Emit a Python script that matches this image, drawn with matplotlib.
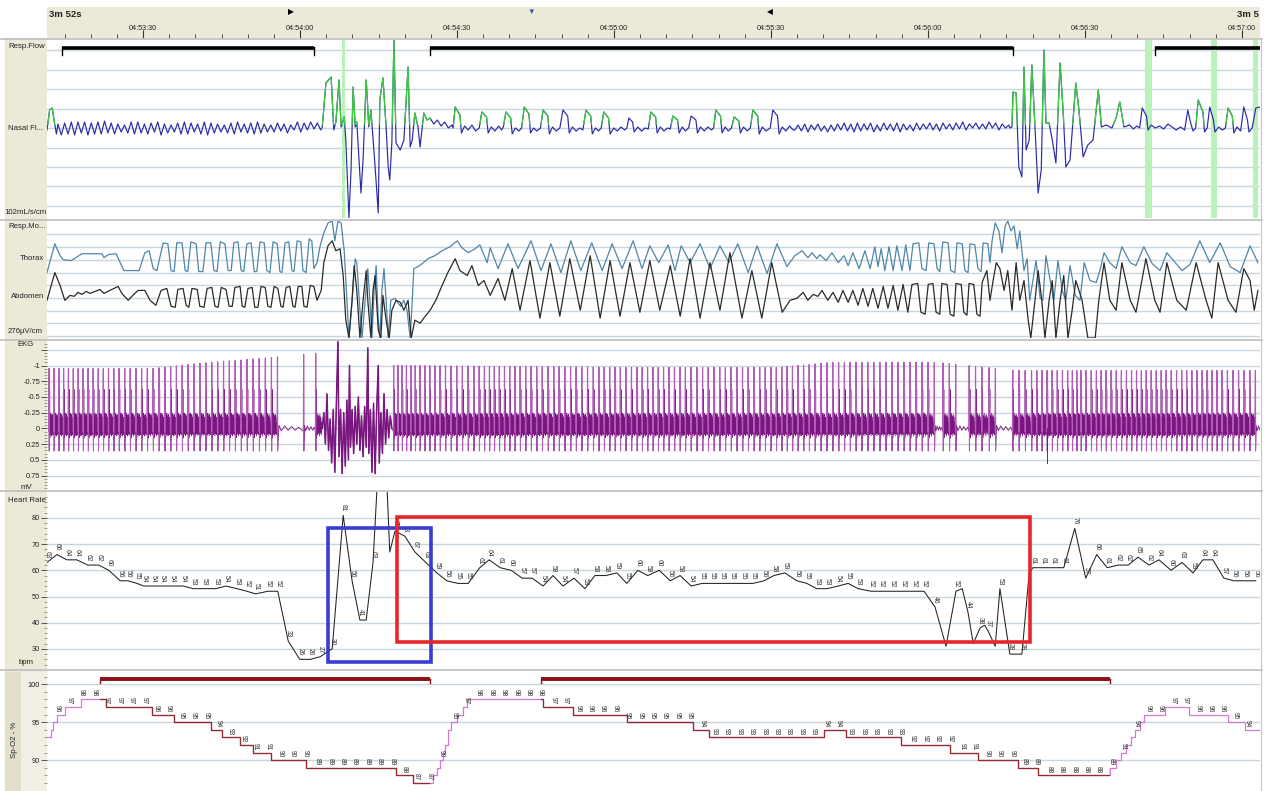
import numpy as np
import matplotlib
matplotlib.use("Agg")
import matplotlib.pyplot as plt
from matplotlib.collections import LineCollection
from matplotlib.patches import Rectangle
from matplotlib.path import Path
from matplotlib.lines import Line2D
from matplotlib.ticker import MultipleLocator, FuncFormatter, FixedLocator

plt.rcParams['font.family'] = ['Liberation Sans', 'DejaVu Sans']

# ======================= DATA =======================
# time = seconds from the left edge of the 3m 52s window (clock 04:53:11.65)
t_start_clock = 4 * 3600 + 53 * 60 + 11.65
window_len = 231.8
window_label = "3m 52s"
window_label_right = "3m 5"
header_marks = [(46.6, '\u25B6', 'black'), (92.5, '\u25BC', '#3a55a8'), (138.2, '\u25C0', 'black')]

# ---- Nasal flow (arbitrary units, 0 = baseline) ----
flow_start = [(0.0, -2), (0.5, 18), (1.0, 20), (1.4, 6), (1.8, -6)]
flow_osc1_span = (2.1, 52.3)
flow_osc1 = [4, -7, 5, -6, 6, -7, 6, -5, 6, -7, 5, -6, 6, -6, 7, -5, 5, -6, 4, -4, 3, -5, 6, -6, 6, -5, 4, -6, 5, -4,
             6, -7, 4, -5, 3, -4, 5, -6, 6, -6, 5, -4, 4, -6, 6, -7, 5, -5, 4, -4, 3, -5, 5, -6, 6, -4, 4, -5, 5, -6,
             6, -5, 4, -4, 3, -4, 5, -3, 4, -5, 3, -2, 6, -4, 5, -2, 6, -1, 5, -2]
flow_event1 = [(52.6, 1), (53.3, 45), (54.3, 51), (54.8, -2), (55.2, 6), (55.8, 48), (56.2, 1), (56.8, 11), (57.1, -12),
               (57.7, -90), (58.1, -42), (58.5, 41), (58.9, 1), (59.2, 6), (60.0, -65), (60.4, -32), (61.0, 48),
               (61.5, 1), (61.9, 18), (62.7, -39), (63.3, -85), (63.6, 28), (64.2, 50), (64.8, 1), (65.2, -39),
               (65.5, -52), (65.9, -15), (66.3, 88), (66.7, -15), (67.5, -22), (68.2, -12), (69.0, 61), (69.4, -19),
               (69.8, -12), (70.3, 15), (70.9, 1), (71.3, -19), (72.0, 15), (72.6, 8), (73.2, 10)]
flow_breaths = [(73.9, 4), (74.6, 8), (75.3, 2), (76.0, 6), (76.7, 0), (77.4, 3), (77.6, 0), (78.0, 21), (78.9, 13),
                (79.2, -5), (79.8, 2), (80.5, -2), (81.2, 3), (81.9, -3), (82.6, 0), (83.1, 16), (84.0, 11), (84.3, -5),
                (84.9, 1), (85.6, -3), (86.3, 2), (86.9, -2), (87.2, 1), (87.7, 16), (88.6, 10), (88.9, -6), (89.5, 0),
                (90.2, -3), (90.7, 0), (91.2, 21), (92.1, 14), (92.4, -5), (93.0, 0), (93.6, -3), (94.3, 0), (94.8, 18),
                (95.7, 12), (96.0, -6), (96.6, 1), (97.3, -3), (98.0, 0), (98.6, 18), (99.5, 12), (99.8, -5),
                (100.4, 1), (101.1, -3), (101.8, 0), (102.4, -2), (103.0, 18), (103.9, 12), (104.2, -6), (104.8, 0),
                (105.4, -3), (105.9, 0), (106.4, 16), (107.3, 10), (107.6, -6), (108.3, 0), (109.0, -3), (109.7, 1),
                (110.4, -2), (110.8, 0), (111.2, 10), (111.9, 6), (112.2, -4), (112.9, 1), (113.6, -3), (114.3, 0),
                (114.9, -1), (115.4, 16), (116.3, 11), (116.6, -5), (117.2, 1), (117.9, -3), (118.6, 0), (119.1, -1),
                (119.6, 12), (120.5, 8), (120.8, -5), (121.4, 1), (122.0, -3), (122.6, 0), (123.1, 12), (124.0, 8),
                (124.3, -5), (124.9, 1), (125.6, -3), (126.3, 1), (127.0, -2), (127.4, 0), (127.8, 18), (128.7, 12),
                (129.0, -5), (129.6, 1), (130.2, -3), (130.8, 0), (131.3, 11), (132.2, 7), (132.5, -5), (133.1, 1),
                (133.8, -3), (134.4, 0), (134.9, 18), (135.8, 12), (136.1, -6), (136.7, 1), (137.4, -3), (138.2, 0),
                (138.7, 18), (139.6, 12), (139.9, -6), (140.5, 1), (141.2, -3), (141.9, 2), (142.6, -2)]
flow_osc2_span = (142.9, 183.8)
flow_osc2 = [-2, 3, -3, 4, -4, 3, -2, 4, -3, 2, -4, 3, -3, 4, -2, 5, -3, 4, -4, 5, -3, 4, -2, 5, -4, 3, -3, 5, -2, 4,
             -3, 5, -4, 4, -2, 3, -3, 5, -2, 4, -1, 5, -2, 4, -3, 5, -1, 4, -2, 5, -1, 6, -2, 4, 0, 5, -1, 4, -1, 6,
             0, 5, -2, 4, 0, 3]
flow_event2 = [(184.0, 0), (184.4, 1), (184.6, 36), (185.2, 35), (185.7, -39), (186.3, -49), (186.7, 61), (187.1, -22),
               (187.7, -12), (188.2, 63), (188.8, 1), (189.4, -65), (190.0, -42), (190.5, 78), (190.9, 5), (191.5, 5),
               (192.1, -12), (192.8, -35), (193.6, 65), (194.2, 15), (194.7, -39), (195.5, -32), (196.6, 45),
               (197.2, 18), (198.0, -29), (198.9, -17), (199.9, -12), (200.9, 38), (201.5, 1), (202.4, 3), (203.5, 0),
               (204.3, 10), (205.0, 26), (205.8, 1), (206.9, 3)]
flow_tail = [(207.6, -1), (208.3, 2), (208.8, 0), (209.3, 20), (210.1, 12), (210.4, -2), (211.0, 3), (211.8, 0),
             (212.6, 2), (213.4, -1), (214.2, 4), (215.0, 1), (215.8, -2), (216.6, 1), (217.4, -2), (218.0, 18),
             (218.6, 4), (219.0, -3), (219.5, 0), (220.0, 28), (220.9, 16), (221.2, -4), (221.7, 0), (222.2, 21),
             (222.9, 8), (223.2, -4), (223.9, 1), (224.6, -2), (225.2, 0), (225.7, 20), (226.5, 12), (226.8, -5),
             (227.4, 1), (228.1, -3), (228.7, 21), (229.4, 8), (229.7, -4), (230.3, 0), (231.0, 20), (231.8, 21)]
# spans where the flow trace is drawn green (scored breaths)
flow_green_spans = [(0.0, 1.8), (52.5, 73.3), (77.5, 79.2), (82.5, 84.3), (87.1, 88.9), (90.6, 92.4), (94.2, 96.0),
                    (102.4, 104.2), (105.8, 107.6), (114.8, 116.6), (119.0, 120.8), (127.3, 129.0), (130.7, 132.5),
                    (134.3, 136.1), (184.0, 207.5), (219.5, 221.2), (225.2, 226.8)]
# scored flow events (black bars) and light green marks
flow_events = [(2.9, 51.0), (73.2, 184.6), (211.7, 233.0)]
flow_marks = [(56.4, 56.9), (209.9, 211.2), (222.4, 223.5), (230.5, 231.5)]

# ---- Respiratory effort (arbitrary units) ----
thorax = [(0.0, 0), (1.5, 29), (2.5, 17), (3.1, 13), (4.6, 12), (6.7, 19), (10.5, 19), (10.9, 15), (11.7, 18),
          (13.2, 19), (14.7, 2), (17.6, 2), (18.7, 20), (19.5, 22), (20.3, 4), (21.0, 2),
          (22.2, 30), (23.1, 29), (23.7, 2), (24.3, 1), (24.8, 30), (25.8, 30), (26.4, 2), (26.9, 1),
          (27.5, 31), (28.5, 29), (29.0, 1), (29.8, 1), (30.4, 30), (31.3, 30), (31.9, 2), (32.5, 1),
          (33.1, 31), (34.0, 29), (34.6, 2), (35.2, 2), (35.7, 30), (36.5, 31), (37.1, 2), (37.6, 1),
          (38.2, 29), (39.0, 30), (39.6, 1), (40.1, 1), (40.7, 31), (41.5, 30), (42.0, 2), (42.6, 0),
          (43.2, 31), (44.0, 29), (44.5, 1), (44.9, 0), (45.5, 30), (46.2, 31), (46.8, 2), (47.2, 1),
          (47.8, 32), (48.5, 31), (48.9, 2), (49.5, 0), (50.1, 34), (50.6, 32), (51.0, 4), (51.6, 10),
          (52.2, 27), (52.9, 40), (53.7, 50), (54.5, 52), (55.0, 32), (55.6, 52), (56.2, 50), (56.8, 22),
          (57.3, -28), (57.7, -66), (58.3, -28), (58.9, 14), (59.2, 10), (59.8, -38), (60.2, -66), (60.8, -28),
          (61.3, 4), (61.7, -28), (62.1, -66), (62.5, -18), (62.9, 7), (63.3, -48), (63.6, -66), (64.0, -18),
          (64.4, 4), (64.8, -28), (65.2, -66), (65.7, -28), (66.5, -26), (67.1, -31), (67.6, -34), (68.2, -28),
          (68.8, -38), (69.4, -66), (69.8, -28), (70.1, 4), (70.9, 6), (71.7, 9), (72.8, 14), (74.1, 17),
          (75.5, 22), (77.0, 26), (78.4, 32), (79.3, 25), (80.5, 20), (81.8, 24), (82.7, 28), (84.1, 10),
          (84.7, 25), (86.2, 4), (88.1, 29), (90.0, 4), (92.5, 32), (94.4, 2), (96.3, 29), (98.2, 0),
          (100.1, 32), (102.0, 2), (104.1, 30), (106.1, 2), (108.0, 29), (109.9, 4), (112.0, 32), (113.7, 4),
          (115.2, 27), (116.9, 10), (118.7, 28), (120.0, 2), (121.2, 27), (122.9, 10), (124.8, 29), (126.7, 4),
          (128.6, 27), (130.3, 10), (132.0, 29), (134.0, 0), (135.7, 27), (137.6, -1), (139.5, 29), (141.4, 6),
          (142.9, 17), (144.3, 22), (145.4, 15), (146.2, 20), (147.1, 14), (147.7, 18), (148.9, 12), (150.0, 20),
          (151.2, 10), (152.3, 17), (153.1, 7), (154.0, 20), (155.2, 4), (156.3, 22), (157.3, 4), (158.2, 26),
          (158.8, 6), (159.4, 24), (160.1, 2), (160.9, 26), (161.7, 2), (162.4, 27), (163.4, 2), (164.1, 28),
          (164.9, 2), (165.5, 29), (166.6, 30), (167.2, 4), (168.0, 2), (168.5, 30), (169.5, 29), (170.1, 4),
          (170.6, 1), (171.2, 31), (172.2, 30), (172.7, 2), (173.5, 0), (173.9, 30), (174.9, 29), (175.4, 2),
          (176.0, 0), (176.4, 29), (177.3, 28), (177.9, 4), (178.5, 1), (178.9, 30), (179.8, 29), (180.2, 10),
          (180.6, 32), (181.2, 50), (181.9, 42), (182.5, 20), (183.1, 47), (183.6, 52), (184.2, 42), (184.8, 47),
          (185.4, 24), (185.9, 42), (186.7, 2), (187.3, 14), (187.8, -28), (188.4, -8), (189.0, 12), (189.8, -26),
          (190.3, -28), (190.9, 17), (191.7, -8), (192.4, -28), (193.2, 12), (194.0, -18), (194.7, -28),
          (195.5, 7), (196.5, -23), (197.4, -28), (198.2, 10), (199.3, -8), (200.5, -10), (201.2, 2), (202.0, 20),
          (203.1, 10), (204.3, 4), (205.4, 26), (207.0, 10), (208.1, 7), (209.6, 26), (211.2, 9), (212.7, 2),
          (214.0, 20), (215.6, 10), (216.9, 2), (218.4, 8), (220.3, 32), (222.2, 10), (224.2, 30), (226.1, 6),
          (228.0, 0), (229.9, 27), (231.4, 10)]
abdomen = [(0.0, -28), (0.8, -13), (1.5, 0), (2.5, -13), (3.4, -28), (4.4, -23), (5.2, -24), (5.9, -20), (6.7, -22),
           (7.5, -19), (8.2, -21), (9.2, -19), (10.1, -17), (10.9, -21), (12.0, -18), (13.6, -14), (14.3, -21),
           (15.5, -28), (16.4, -23), (17.4, -18), (18.7, -18), (19.7, -28), (20.8, -33),
           (21.8, -18), (22.9, -16), (23.7, -34), (24.5, -35), (25.0, -17), (26.0, -16), (26.6, -33), (27.1, -35),
           (27.7, -16), (28.7, -17), (29.2, -34), (30.0, -35), (30.6, -16), (31.5, -15), (32.1, -34), (32.7, -35),
           (33.3, -15), (34.2, -17), (34.8, -34), (35.4, -34), (35.9, -15), (36.9, -14), (37.3, -34), (37.8, -35),
           (38.4, -16), (39.2, -15), (39.7, -35), (40.3, -35), (40.9, -14), (41.7, -15), (42.2, -34), (42.8, -35),
           (43.4, -14), (44.1, -16), (44.7, -34), (45.1, -35), (45.7, -15), (46.4, -14), (47.0, -34), (47.4, -35),
           (48.0, -14), (48.7, -14), (49.1, -34), (49.7, -35), (50.3, -13), (51.0, -14), (51.6, -28),
           (52.4, -18), (52.9, 10), (53.7, 27), (54.5, 32), (55.2, 22), (56.0, 24), (56.6, -3), (57.1, -48),
           (57.7, -66), (58.3, -28), (58.7, 7), (59.2, -18), (59.8, -66), (60.4, -28), (61.0, 2), (61.3, -28),
           (61.9, -66), (62.3, -18), (62.7, -3), (63.3, -58), (63.8, -66), (64.2, -23), (64.8, -48), (65.4, -66),
           (65.9, -38), (66.7, -28), (67.5, -30), (68.2, -38), (69.0, -28), (69.6, -66), (70.3, -48), (71.3, -51),
           (72.0, -46), (73.2, -38), (74.3, -28), (75.5, -13), (76.6, 0), (78.0, 14), (78.9, 2), (80.3, -3),
           (81.2, 7), (82.4, -13), (83.5, -8), (84.7, -23), (86.2, -6), (87.5, -28), (88.9, 4), (90.4, -38),
           (92.3, 12), (94.2, -46), (96.1, 10), (98.0, -44), (99.9, 14), (101.9, -38), (103.8, 17), (105.7, -46),
           (107.6, 12), (109.5, -44), (111.4, 10), (113.3, -40), (115.2, 12), (117.1, -38), (119.1, 7),
           (121.0, -44), (122.9, 14), (124.8, -46), (126.7, 10), (128.6, -38), (130.5, 20), (132.8, -46),
           (134.7, 2), (136.6, -46), (138.5, 10), (140.5, -40), (142.0, -28), (143.3, -26), (144.5, -20),
           (145.4, -28), (146.4, -22), (147.3, -24), (148.1, -18), (149.2, -28), (150.2, -20), (151.2, -30),
           (152.1, -18), (153.1, -30), (154.0, -18), (155.0, -33), (155.9, -16), (156.9, -34), (157.8, -16),
           (158.8, -36), (159.8, -14), (160.7, -36), (161.7, -13), (162.6, -38), (163.6, -12), (164.5, -40),
           (165.3, -12), (166.4, -11), (167.0, -40), (167.8, -42), (168.4, -12), (169.3, -11), (169.9, -40),
           (170.6, -42), (171.0, -11), (172.0, -12), (172.6, -42), (173.3, -44), (173.7, -11), (174.7, -12),
           (175.2, -40), (175.8, -43), (176.2, -11), (177.1, -12), (177.7, -42), (178.3, -44), (178.7, -10),
           (179.6, 2), (180.2, -28), (180.8, -8), (181.4, 10), (182.1, 4), (182.9, -18), (183.6, 2), (184.4, -38),
           (185.2, 10), (185.9, -28), (186.7, -8), (187.5, -48), (188.0, -66), (188.8, -28), (189.4, 2),
           (190.1, -28), (190.7, -66), (191.5, -28), (192.1, -8), (192.8, -66), (193.6, -28), (194.3, -3),
           (195.1, -66), (195.9, -38), (196.6, -8), (197.8, -28), (198.9, -66), (200.3, -66), (201.0, -28),
           (202.0, 10), (203.1, -28), (204.3, -38), (205.4, 10), (207.0, -28), (208.1, -40), (210.0, 14),
           (211.7, -28), (212.7, -40), (214.0, 10), (215.9, -28), (217.7, -38), (219.6, 10), (221.5, -28),
           (222.6, -46), (223.8, 10), (225.7, -28), (227.2, -40), (228.7, 4), (229.9, -8), (230.7, -38),
           (231.4, -18)]

# ---- EKG (mV, negative up) ----
ekg_first_beat = 0.35
ekg_min_rate = 50
ekg_r_t = [0, 20, 30, 42, 52, 66, 110, 140, 150, 170, 185, 232]
ekg_r_amp = [0.95, 0.95, 1.04, 1.12, 1.2, 1.0, 0.97, 0.97, 1.05, 1.05, 0.92, 0.92]
ekg_pauses = [(44.9, 49.0), (49.3, 51.3), (51.6, 52.6), (169.7, 171.2), (174.7, 176.2), (178.8, 180.0),
              (181.6, 184.5)]
ekg_beat_shape = [(0.03, -0.1), (0.07, -0.62), (0.11, 0.15), (0.17, -0.2), (0.24, 0.1), (0.31, -0.24), (0.39, 0.08),
                  (0.47, -0.2), (0.55, 0.12), (0.63, -0.22), (0.71, 0.08), (0.79, -0.18), (0.87, 0.1), (0.95, -0.1)]
ekg_pause_shape = [(0.05, -0.05), (0.15, 0.04), (0.3, -0.04), (0.45, 0.03), (0.6, -0.03), (0.75, 0.03), (0.9, -0.02)]
ekg_chaos = [(52.6, 0.0), (52.9, -0.25), (53.2, 0.25), (53.5, -0.55), (53.8, 0.35), (54.1, -0.15), (54.4, 0.55),
             (54.7, -0.3), (55.0, 0.7), (55.3, -0.4), (55.6, -1.38), (55.8, 0.45), (56.1, -0.3), (56.4, 0.72),
             (56.7, -0.25), (57.0, 0.6), (57.3, -0.45), (57.6, 0.5), (57.8, -1.0), (58.0, 0.3), (58.3, -0.3),
             (58.6, 0.4), (58.9, -0.35), (59.2, 0.25), (59.5, -0.5), (59.8, 0.35), (60.1, -0.2), (60.4, 0.45),
             (60.7, -0.35), (61.0, 0.3), (61.3, -1.28), (61.5, 0.4), (61.8, -0.3), (62.1, 0.7), (62.4, -0.4),
             (62.7, 0.72), (63.0, -0.3), (63.3, -1.0), (63.5, 0.55), (63.8, -0.25), (64.1, 0.4), (64.4, -0.55),
             (64.7, 0.25), (65.0, -0.3), (65.3, 0.15), (65.6, -0.2), (65.9, 0.0)]
ekg_extra = [(191.1, 0.55)]

# ---- Heart rate (bpm): (time, value, labelled) ----
heart_rate = [(0.0, 63, 1), (1.9, 66, 1), (3.8, 64, 1), (5.7, 64, 1), (7.8, 62, 1), (9.9, 62, 1), (11.8, 60, 1),
              (14.0, 56, 1), (15.5, 56, 1), (17.2, 55, 1), (18.5, 54, 1), (20.3, 54, 1), (22.0, 54, 1), (23.9, 54, 1),
              (26.0, 54, 1), (27.9, 53, 1), (30.0, 53, 1), (32.3, 53, 1), (34.2, 54, 1), (36.3, 53, 1), (38.2, 52, 1),
              (39.9, 51, 1), (42.2, 52, 1), (44.1, 52, 1), (46.1, 33, 1), (48.3, 26, 1), (50.3, 26, 1), (52.2, 27, 1),
              (54.5, 30, 1), (56.6, 81, 1), (58.3, 56, 1), (59.8, 41, 1), (61.0, 41, 0), (62.3, 63, 1),
              (63.3, 100, 0), (64.8, 100, 0), (65.5, 67, 0), (66.5, 75, 1), (68.4, 73, 1), (70.3, 67, 1),
              (72.4, 63, 1), (74.5, 59, 1), (76.4, 56, 1), (78.5, 55, 1), (80.5, 55, 1), (82.7, 61, 1), (84.5, 64, 1),
              (86.6, 61, 1), (88.7, 60, 1), (90.8, 57, 1), (92.7, 57, 1), (94.8, 54, 1), (96.7, 58, 1), (98.6, 54, 1),
              (100.7, 57, 1), (102.8, 53, 1), (104.7, 58, 1), (106.8, 58, 1), (108.9, 59, 1), (110.8, 55, 1),
              (112.9, 60, 1), (114.8, 58, 1), (117.0, 60, 1), (119.1, 56, 1), (121.0, 58, 1), (123.1, 54, 1),
              (125.2, 55, 1), (127.1, 55, 1), (129.0, 55, 1), (130.9, 55, 1), (133.0, 55, 1), (134.9, 55, 1),
              (137.0, 56, 1), (138.9, 58, 1), (141.0, 59, 1), (143.3, 56, 1), (145.2, 55, 1), (147.1, 53, 1),
              (149.1, 53, 1), (151.2, 54, 1), (153.1, 55, 1), (155.0, 53, 1), (157.5, 52, 1), (159.4, 52, 1),
              (161.5, 52, 1), (163.6, 52, 1), (165.7, 52, 1), (167.6, 52, 1), (169.7, 46, 1), (171.8, 31, 0),
              (173.7, 52, 1), (174.9, 53, 0), (176.0, 44, 1), (177.0, 32, 0), (178.3, 38, 1), (179.2, 39, 0),
              (179.8, 37, 1), (181.2, 31, 0), (182.1, 53, 1), (184.0, 28, 1), (186.3, 28, 1), (187.7, 59, 0),
              (188.4, 61, 1), (190.3, 61, 1), (192.2, 61, 1), (194.3, 61, 1), (196.4, 76, 1), (198.5, 57, 1),
              (200.6, 66, 1), (202.6, 61, 1), (204.7, 62, 1), (206.6, 62, 1), (208.5, 65, 1), (210.6, 62, 1),
              (212.5, 64, 1), (214.8, 60, 1), (216.9, 63, 1), (219.0, 59, 1), (220.9, 64, 1), (222.8, 64, 1),
              (224.9, 57, 1), (226.8, 56, 1), (228.9, 56, 1), (231.0, 56, 1)]
# annotation boxes on the heart-rate panel: (t0, t1, bpm_low, bpm_high)
hr_box_red = (66.9, 187.8, 32.7, 80.4)
hr_box_blue = (53.7, 73.4, 25.0, 76.2)

# ---- SpO2 (%): step changes (time, level) ----
spo2_steps = [(0.0, 93), (0.8, 94), (1.1, 95), (1.9, 96), (3.4, 97), (6.5, 98), (11.3, 97), (20.1, 96), (24.3, 95),
              (31.3, 94), (33.4, 93), (36.9, 92), (39.4, 91), (42.8, 90), (49.5, 89), (66.7, 88), (69.9, 87),
              (73.8, 88), (74.5, 89), (75.1, 90), (75.7, 91), (76.1, 92), (76.6, 94), (77.2, 95), (78.3, 96),
              (79.5, 97), (80.3, 98), (94.8, 97), (100.5, 96), (110.8, 95), (123.4, 94), (126.5, 93), (148.5, 94),
              (152.7, 93), (163.2, 92), (172.6, 91), (177.9, 90), (185.6, 89), (189.4, 88), (203.1, 89),
              (204.3, 90), (205.2, 91), (206.2, 92), (207.2, 93), (207.9, 94), (208.9, 95), (209.6, 96),
              (213.6, 97), (218.2, 96), (225.7, 95), (228.9, 94)]
spo2_label_start, spo2_label_step = 1.9, 2.37
spo2_events = [(10.1, 73.2), (94.4, 203.1)]

# ======================= FIGURE =======================
W, H = 1267, 791
fig = plt.figure(figsize=(W / 100, H / 100), dpi=100)
fig.patch.set_facecolor('white')
T0 = t_start_clock
XL = (T0, T0 + window_len)
GRID = '#c8d6e0'
BEIGE = '#ece9d8'
FS = 5.6


def px_axes(x0, y0, x1, y1):
    ax = fig.add_axes([x0 / W, 1 - y1 / H, (x1 - x0) / W, (y1 - y0) / H])
    ax.set_xlim(*XL)
    for s in ax.spines.values():
        s.set_visible(False)
    ax.tick_params(axis='x', which='both', bottom=False, labelbottom=False)
    return ax


def ftext(x, y, s, **kw):
    kw.setdefault('fontsize', FS)
    kw.setdefault('color', '#222222')
    kw.setdefault('va', 'center')
    fig.text(x / W, 1 - y / H, s, **kw)


def spans_path(spans, y0, y1):
    verts, codes = [], []
    for a, b in spans:
        verts += [(T0 + a, y0), (T0 + b, y0), (T0 + b, y1), (T0 + a, y1), (T0 + a, y0)]
        codes += [Path.MOVETO, Path.LINETO, Path.LINETO, Path.LINETO, Path.CLOSEPOLY]
    return Path(verts, codes)


def yaxis_style(ax, majors, minor, fmt):
    ax.yaxis.set_major_locator(FixedLocator(majors))
    ax.yaxis.set_minor_locator(MultipleLocator(minor))
    ax.yaxis.set_major_formatter(FuncFormatter(fmt))
    ax.tick_params(axis='y', which='major', length=4, width=0.7, color='#555555', labelsize=FS - 0.3,
                   pad=1, labelcolor='#222222')
    ax.tick_params(axis='y', which='minor', length=2, width=0.5, color='#777777')
    ax.grid(axis='y', which='major', color=GRID, lw=1.0)
    ax.set_axisbelow(True)


# left column and header backgrounds
fig.add_artist(Rectangle((5 / W, 0), 42 / W, 1 - 38 / H, transform=fig.transFigure, color=BEIGE, zorder=-2))
fig.add_artist(Rectangle((5 / W, 0), 16 / W, 1 - 672 / H, transform=fig.transFigure, color='#e3dfcb', zorder=-1))
fig.add_artist(Rectangle((21 / W, 0), 26 / W, 1 - 672 / H, transform=fig.transFigure, color='#f1efe4', zorder=-1))

# ---------------- header ----------------
axh = px_axes(47, 7, 1260, 38)
axh.set_facecolor(BEIGE)
axh.set_ylim(0, 1)
axh.set_yticks([])


def clock(x, pos):
    s = int(round(x))
    return f"{s // 3600:02d}:{(s // 60) % 60:02d}:{s % 60:02d}"


axh.xaxis.set_major_locator(MultipleLocator(30))
axh.xaxis.set_minor_locator(MultipleLocator(5))
axh.xaxis.set_major_formatter(FuncFormatter(clock))
axh.tick_params(axis='x', which='major', bottom=True, labelbottom=True, direction='in', length=6, width=0.8,
                color='#333333', labelsize=FS - 0.4, pad=-9.6, labelcolor='#222222')
axh.tick_params(axis='x', which='minor', bottom=True, direction='in', length=3, width=0.6, color='#333333')
axh.text(T0 + 0.4, 0.77, window_label, fontsize=6.8, fontweight='bold', va='center', ha='left', color='#222')
axh.text(T0 + window_len - 0.2, 0.77, window_label_right, fontsize=6.8, fontweight='bold', va='center', ha='right',
         color='#222')
for tm, sym, col in header_marks:
    axh.text(T0 + tm, 0.82, sym, fontsize=5.5, ha='center', va='center', color=col)

# ---------------- Resp flow ----------------
axf = px_axes(47, 40, 1260, 218)
axf.set_ylim(-90, 88)
axf.set_yticks([])
for k in range(-4, 5):
    axf.axhline(19.5 * k, color=GRID, lw=1.0, zorder=0)
for a, b in flow_marks:
    axf.axvspan(T0 + a, T0 + b, color='#b8f2b8', lw=0, zorder=1)
for a, b in flow_events:
    axf.plot([T0 + a, T0 + b], [80, 80], color='black', lw=2.6, solid_capstyle='butt', zorder=3)
    axf.plot([T0 + a, T0 + a], [81, 73], color='black', lw=1.0, zorder=3)
    axf.plot([T0 + b, T0 + b], [81, 73], color='black', lw=1.0, zorder=3)

o1t = np.linspace(flow_osc1_span[0], flow_osc1_span[1], len(flow_osc1))
o2t = np.linspace(flow_osc2_span[0], flow_osc2_span[1], len(flow_osc2))
ft = np.concatenate([[p[0] for p in flow_start], o1t, [p[0] for p in flow_event1], [p[0] for p in flow_breaths],
                     o2t, [p[0] for p in flow_event2], [p[0] for p in flow_tail]])
fv = np.concatenate([[p[1] for p in flow_start], flow_osc1, [p[1] for p in flow_event1],
                     [p[1] for p in flow_breaths], flow_osc2, [p[1] for p in flow_event2],
                     [p[1] for p in flow_tail]])
axf.plot(T0 + ft, fv, color='#2a2aa6', lw=0.85, zorder=4)
gl, = axf.plot(T0 + ft, fv, color='#3ccb3c', lw=0.9, zorder=5)
gl.set_clip_path(spans_path(flow_green_spans, 3, 200), axf.transData)

# ---------------- Resp effort ----------------
axr = px_axes(47, 221, 1260, 338)
axr.set_ylim(-66, 52)
axr.set_yticks([])
for k in range(-5, 4):
    axr.axhline(12.8 * k, color=GRID, lw=1.0, zorder=0)
axr.plot([T0 + p[0] for p in thorax], [p[1] for p in thorax], color='#4f86a8', lw=0.9, zorder=3)
axr.plot([T0 + p[0] for p in abdomen], [p[1] for p in abdomen], color='#2a2a2a', lw=0.9, zorder=3)

# ---------------- EKG ----------------
axe = px_axes(47, 341, 1260, 490)
axe.set_ylim(0.98, -1.39)
yaxis_style(axe, [-1.25, -1, -0.75, -0.5, -0.25, 0, 0.25, 0.5, 0.75], 0.05,
            lambda v, p: '' if v < -1.1 else ('%g' % v))

hr_t = np.array([p[0] for p in heart_rate], float)
hr_v = np.array([p[1] for p in heart_rate], float)
chaos_a, chaos_b = ekg_chaos[0][0], ekg_chaos[-1][0]
beats = []
tb = ekg_first_beat
while tb < window_len:
    if chaos_a <= tb < chaos_b:
        tb = chaos_b + 0.3
        continue
    beats.append(tb)
    nxt = tb + 60.0 / np.clip(np.interp(tb, hr_t, hr_v), ekg_min_rate, 90)
    for a, b in ekg_pauses:
        if tb < a and nxt > a:
            nxt = b
    tb = nxt

ek_t, ek_v, r_segs = [], [], []
for i, tb in enumerate(beats):
    nxt = beats[i + 1] if i + 1 < len(beats) else window_len + 1.0
    if tb < chaos_a < nxt:
        nxt = chaos_a
    I = min(nxt - tb, 4.5)
    A = np.interp(tb, ekg_r_t, ekg_r_amp)
    shape = ekg_pause_shape if I > 1.6 else ekg_beat_shape
    ek_t += [tb, tb + 0.04, tb + 0.08]
    ek_v += [0.05, -A, 0.36]
    r_segs.append([(T0 + tb, 0.05), (T0 + tb + 0.04, -A), (T0 + tb + 0.08, 0.36)])
    span = min(I, 1.2) if I > 1.6 else I
    for f, v in shape:
        ek_t.append(tb + 0.1 + f * (I - 0.1))
        ek_v.append(v)
ek_t += [p[0] for p in ekg_chaos]
ek_v += [p[1] for p in ekg_chaos]
order = np.argsort(ek_t, kind='stable')
ek_t = np.array(ek_t)[order]
ek_v = np.array(ek_v)[order]
axe.plot(T0 + ek_t, ek_v, color='#7a1680', lw=0.6, zorder=3)
cm = (ek_t >= chaos_a) & (ek_t <= chaos_b)
axe.plot(T0 + ek_t[cm], ek_v[cm], color='#7a1680', lw=1.1, zorder=3)
axe.add_collection(LineCollection(r_segs, colors='#b45cba', linewidths=0.85, zorder=4))
for tx, vx in ekg_extra:
    axe.plot([T0 + tx, T0 + tx], [0.0, vx], color='#7a1680', lw=0.7, zorder=4)

# ---------------- Heart rate ----------------
axhr = px_axes(47, 492, 1260, 668)
axhr.set_ylim(22.7, 89.9)
yaxis_style(axhr, [30, 40, 50, 60, 70, 80], 2, lambda v, p: '%d' % v)
axhr.plot(T0 + hr_t, hr_v, color='#222222', lw=0.75, zorder=3)
for t, v, lab in heart_rate:
    if lab:
        axhr.text(T0 + t, v + 1.4, str(v), rotation=270, ha='center', va='bottom', fontsize=4.8,
                  color='#333333', zorder=4, clip_on=True)
for (a, b, lo, hi), col in [(hr_box_blue, '#3b3bd6'), (hr_box_red, '#e8262a')]:
    axhr.add_patch(Rectangle((T0 + a, lo), b - a, hi - lo, fill=False, edgecolor=col, lw=2.6, zorder=6,
                             clip_on=False))

# ---------------- SpO2 ----------------
axs = px_axes(47, 672, 1260, 791)
axs.set_ylim(85.96, 101.6)
yaxis_style(axs, [90, 95, 100], 1, lambda v, p: '%d' % v)
st = np.array([p[0] for p in spo2_steps] + [window_len + 1])
sv = np.array([p[1] for p in spo2_steps] + [spo2_steps[-1][1]])
axs.plot(T0 + st, sv, drawstyle='steps-post', color='#d27ad2', lw=0.9, zorder=3)
dl, = axs.plot(T0 + st, sv, drawstyle='steps-post', color='#8e2c30', lw=0.9, zorder=4)
dl.set_clip_path(spans_path(spo2_events, 80, 110), axs.transData)
for a, b in spo2_events:
    axs.plot([T0 + a, T0 + b], [100.62, 100.62], color='#8b0f14', lw=2.8, solid_capstyle='butt', zorder=5)
    axs.plot([T0 + a, T0 + a], [100.7, 100.1], color='#8b0f14', lw=1.0, zorder=5)
    axs.plot([T0 + b, T0 + b], [100.7, 100.1], color='#8b0f14', lw=1.0, zorder=5)
lab_t = np.arange(spo2_label_start, window_len, spo2_label_step)
idx = np.searchsorted(st, lab_t + 0.05, side='right') - 1
for t, i in zip(lab_t, idx):
    axs.text(T0 + t, sv[i] + 0.35, str(int(sv[i])), rotation=270, ha='center', va='bottom', fontsize=4.8,
             color='#333333', zorder=6, clip_on=True)

# ---------------- separators & left labels ----------------
for y in [38.5, 219.5, 339.5, 491, 670]:
    fig.add_artist(Line2D([0, 1262 / W], [1 - y / H] * 2, transform=fig.transFigure, color='#b9b9b9', lw=1.1))
fig.add_artist(Line2D([1260.5 / W] * 2, [0, 1 - 38 / H], transform=fig.transFigure, color='#c4c4c4', lw=0.8))

ftext(8, 46, 'Resp.Flow')
ftext(8, 128, 'Nasal Fl...')
ftext(4, 212, '102mL/s/cm')
ftext(8, 227, 'Resp.Mo...')
ftext(44, 258, 'Thorax', ha='right')
ftext(44, 297, 'Abdomen', ha='right')
ftext(8, 331, '276\u00b5V/cm')
ftext(26, 345, 'EKG', ha='center')
ftext(26, 487, 'mV', ha='center')
ftext(8, 500, 'Heart Rate')
ftext(26, 663, 'bpm', ha='center')
ftext(14, 740, 'Sp-O2 - %', ha='center', rotation=90)

fig.savefig('out.png', dpi=100)
